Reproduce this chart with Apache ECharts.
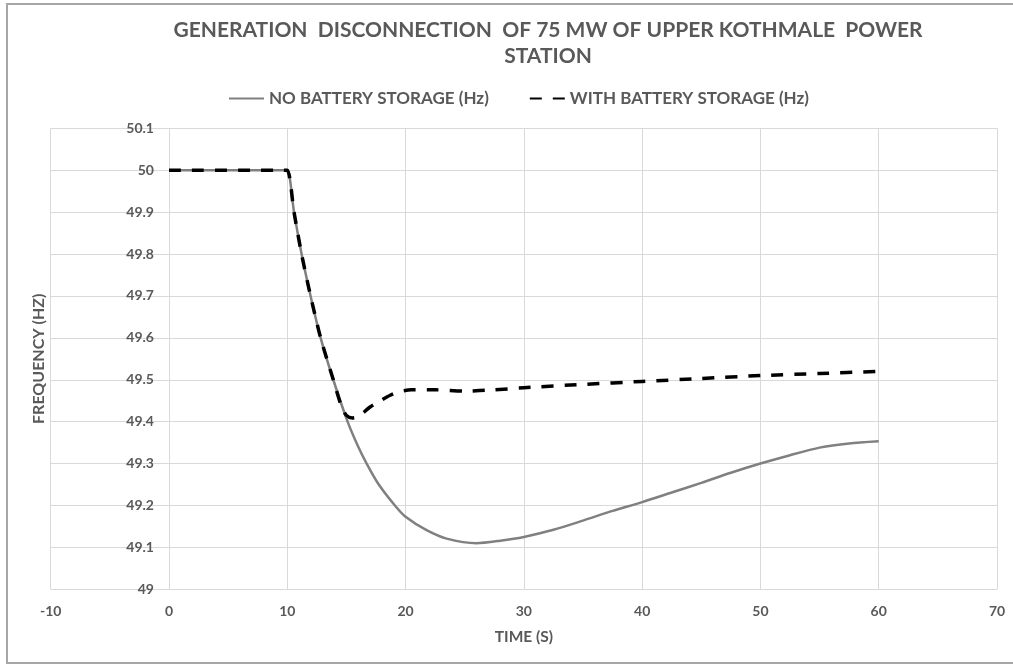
<!DOCTYPE html>
<html>
<head>
<meta charset="utf-8">
<script src="https://cdn.jsdelivr.net/npm/echarts@6/dist/echarts.min.js"></script>
<style>
html,body{margin:0;padding:0;background:#fff;}
#chart{width:1013px;height:665px;}
</style>
</head>
<body>
<div id="chart"></div>
<script>
const titleLines = ['GENERATION  DISCONNECTION  OF 75 MW OF UPPER KOTHMALE  POWER', 'STATION'];
const seriesNames = ['NO BATTERY STORAGE (Hz)', 'WITH BATTERY STORAGE (Hz)'];
const xAxisTitle = 'TIME (S)';
const yAxisTitle = 'FREQUENCY (HZ)';

const timeNoBattery = [0, 9.5, 10, 10.57, 11.21, 11.97, 12.82, 13.89, 15.1, 16.0, 16.71, 17.69, 19.1, 20, 21.78, 23.47, 26, 28, 30, 32.5, 35, 37.5, 40, 42.5, 45, 47.5, 50, 52.5, 55, 57.5, 60];
const freqNoBattery = [50, 50, 50, 49.9, 49.8, 49.7, 49.6, 49.5, 49.4, 49.34, 49.3, 49.252, 49.2, 49.173, 49.141, 49.121, 49.110, 49.116, 49.125, 49.142, 49.164, 49.187, 49.208, 49.231, 49.254, 49.278, 49.300, 49.320, 49.338, 49.348, 49.353];

const timeWithBattery = [0, 9.5, 10, 10.57, 11.21, 11.97, 12.82, 13.89, 14.6, 15.0, 15.5, 16.0, 17.0, 18.0, 18.7, 19.5, 20.5, 22.5, 25, 27.5, 30, 35, 40, 45, 50, 55, 60];
const freqWithBattery = [50, 50, 50, 49.9, 49.8, 49.7, 49.6, 49.5, 49.435, 49.415, 49.409, 49.412, 49.435, 49.452, 49.463, 49.472, 49.476, 49.476, 49.473, 49.476, 49.481, 49.489, 49.496, 49.503, 49.510, 49.515, 49.520];

const xMin = -10, xMax = 70, xStep = 10;
const yMin = 49, yMax = 50.1, yStep = 0.1;
const yAxisCrossAt = 0;

const FONT = 'Lato, "Open Sans", sans-serif';
const TXT = '#595959';
const GRID_LEFT = 50.7;

const chart = echarts.init(document.getElementById('chart'), null, {renderer: 'canvas'});
chart.setOption({
  backgroundColor: '#fff',
  animation: false,
  title: {
    text: titleLines.join('\n'),
    left: 543,
    top: 12,
    textAlign: 'center',
    textStyle: {fontFamily: FONT, fontWeight: 'bold', fontSize: 21, color: TXT, lineHeight: 26}
  },
  legend: {
    left: 223,
    top: 85,
    itemWidth: 35,
    itemHeight: 14,
    itemGap: 40,
    itemStyle: {opacity: 0},
    textStyle: {fontFamily: FONT, fontWeight: 'bold', fontSize: 17, color: TXT},
    data: seriesNames
  },
  graphic: [{
    type: 'rect',
    shape: {x: 7, y: 4, width: 1020, height: 659},
    style: {fill: 'none', stroke: '#a6a6a6', lineWidth: 2},
    silent: true
  }],
  grid: {left: GRID_LEFT, right: 16, top: 128.3, bottom: 75.7, containLabel: false, outerBoundsMode: 'none'},
  xAxis: {
    type: 'value',
    min: xMin, max: xMax, interval: xStep,
    name: xAxisTitle,
    nameLocation: 'middle',
    nameGap: 40,
    nameTextStyle: {fontFamily: FONT, fontWeight: 'bold', fontSize: 15.5, color: TXT},
    axisLine: {show: false},
    axisTick: {show: false},
    axisLabel: {margin: 15, fontFamily: FONT, fontWeight: 'bold', fontSize: 14, color: TXT},
    splitLine: {show: true, lineStyle: {color: '#d9d9d9', width: 1}}
  },
  yAxis: {
    type: 'value',
    min: yMin, max: yMax, interval: yStep,
    name: yAxisTitle,
    nameLocation: 'middle',
    nameGap: 122,
    nameRotate: 90,
    nameTextStyle: {fontFamily: FONT, fontWeight: 'bold', fontSize: 16, color: TXT},
    axisLine: {show: false, onZero: false},
    axisTick: {show: false},
    axisLabel: {margin: 15, fontFamily: FONT, fontWeight: 'bold', fontSize: 14, color: TXT},
    splitLine: {show: true, lineStyle: {color: '#d9d9d9', width: 1}}
  },
  series: [
    {
      name: seriesNames[0],
      type: 'line',
      showSymbol: false,
      symbol: 'none',
      smooth: 0.25,
      lineStyle: {color: '#808080', width: 2.5},
      itemStyle: {color: '#808080'},
      data: timeNoBattery.map((t, i) => [t, freqNoBattery[i]]),
      z: 2
    },
    {
      name: seriesNames[1],
      type: 'line',
      showSymbol: false,
      symbol: 'none',
      smooth: 0.25,
      lineStyle: {color: '#000000', width: 3.5, type: [12, 11]},
      itemStyle: {color: '#000000'},
      data: timeWithBattery.map((t, i) => [t, freqWithBattery[i]]),
      z: 3
    }
  ]
});
// place the vertical axis where x = 0, as in the original chart
const crossPx = chart.convertToPixel({xAxisIndex: 0}, yAxisCrossAt);
chart.setOption({yAxis: {offset: -(crossPx - GRID_LEFT)}});
</script>
</body>
</html>
